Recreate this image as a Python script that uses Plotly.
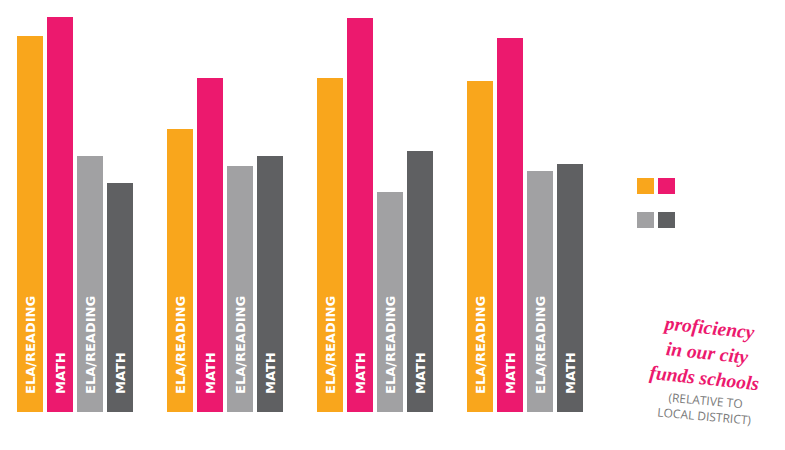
import plotly.graph_objects as go

# ---- data ----
groups = ["Group 1", "Group 2", "Group 3", "Group 4"]
series_names = ["City ELA/Reading", "City Math", "District ELA/Reading", "District Math"]
bar_labels = ["ELA/READING", "MATH", "ELA/READING", "MATH"]
city_ela = [94.1, 70.8, 83.4, 82.8]
city_math = [98.8, 83.5, 98.5, 93.5]
district_ela = [64.1, 61.5, 55.0, 60.3]
district_math = [57.3, 64.0, 65.3, 62.1]
colors = ["#F9A61C", "#EC196E", "#A1A1A3", "#5F6062"]

all_series = [city_ela, city_math, district_ela, district_math]

W, H = 785, 450
OFF = 8  # page body margin
ML, MR, MT, MB = 0, 0, 0, 46
plot_h = H - MT - MB
slot = 30.0
x0r = -1 + OFF / slot
x_range = [x0r, x0r + (W - ML - MR) / slot]
y_range = [0, plot_h / 4.0]

def px(xp):
    return (xp - OFF - ML) / (W - ML - MR)

def py(yp):
    return 1 - (yp - OFF - MT) / plot_h

fig = go.Figure()
annotations = []
for s, (vals, name, lab, col) in enumerate(zip(all_series, series_names, bar_labels, colors)):
    xs = [g * 5 + s for g in range(len(groups))]
    fig.add_trace(go.Bar(
        x=xs, y=vals, name=name, width=0.867,
        marker=dict(color=col, line=dict(width=0)),
        hoverinfo="y+name", showlegend=False,
    ))
    for xv in xs:
        annotations.append(dict(
            x=xv, y=0, xref="x", yref="y", text=lab, showarrow=False,
            textangle=-90, xanchor="center", yanchor="bottom", yshift=16,
            font=dict(family="DejaVu Sans", size=13, color="white", weight="bold"),
        ))

# legend-like colour squares
shapes = []
squares = [(637, 178, colors[0]), (658, 178, colors[1]), (637, 212, colors[2]), (658, 212, colors[3])]
for x0, y0, c in squares:
    shapes.append(dict(type="rect", xref="paper", yref="paper",
                       x0=px(x0), x1=px(x0 + 17), y0=py(y0 + 16), y1=py(y0),
                       fillcolor=c, line=dict(width=0)))

annotations.append(dict(
    x=px(707), y=py(353), xref="paper", yref="paper", showarrow=False,
    text="proficiency<br>in our city<br>funds schools", align="center",
    textangle=6, xanchor="center", yanchor="middle",
    font=dict(family="Liberation Serif", size=19.5, color="#EC196E", weight="bold", style="italic"),
))
annotations.append(dict(
    x=px(705), y=py(408), xref="paper", yref="paper", showarrow=False,
    text="(RELATIVE TO<br>LOCAL DISTRICT)", align="center",
    textangle=5, xanchor="center", yanchor="middle",
    font=dict(family="Open Sans", size=12, color="#7A7A7A"),
))

fig.update_layout(
    width=W, height=H, margin=dict(l=ML, r=MR, t=MT, b=MB),
    paper_bgcolor="white", plot_bgcolor="white",
    barmode="overlay", bargap=0,
    xaxis=dict(range=x_range, visible=False, fixedrange=True),
    yaxis=dict(range=y_range, visible=False, fixedrange=True),
    annotations=annotations, shapes=shapes,
)

fig.write_html("out.html")
